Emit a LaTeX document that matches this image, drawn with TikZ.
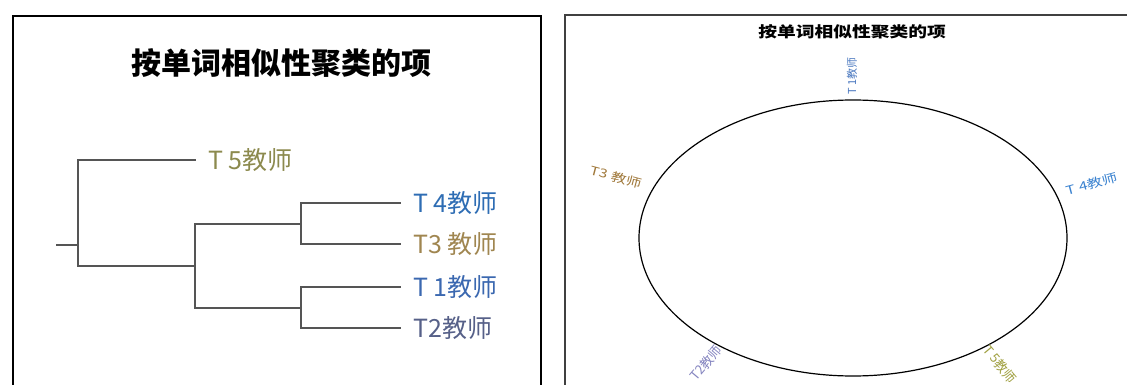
\documentclass[tikz,border=0pt]{standalone}
\usepackage{fontspec}
\setmainfont{Noto Sans CJK SC}
\usetikzlibrary{shapes.geometric}
\definecolor{dendc}{HTML}{555555}
\definecolor{cfive}{HTML}{8C8A4E}
\definecolor{cfour}{HTML}{2E6DB4}
\definecolor{cthree}{HTML}{A08650}
\definecolor{cone}{HTML}{3B68B0}
\definecolor{ctwo}{HTML}{566088}
\definecolor{rone}{HTML}{4A78C0}
\definecolor{rfour}{HTML}{3A82D0}
\definecolor{rthree}{HTML}{A0783A}
\definecolor{rtwo}{HTML}{8585C0}
\definecolor{rfive}{HTML}{A0A040}
\tikzset{
  dend/.style={draw=dendc, line width=2.8pt, line cap=rect},
  leaf/.style={anchor=west, inner xsep=13pt, inner ysep=0pt, font=\fontsize{25}{25}\selectfont},
  rlabel/.style={inner sep=0pt, font=\fontsize{12}{12}\selectfont},
}
\begin{document}
\begin{tikzpicture}[x=1pt,y=-1pt]
\useasboundingbox (0,0) rectangle (1127,385);
\fill[white] (0,0) rectangle (1127,385);
% frames
\draw[line width=1.8pt, black] (13,385) -- (13,16) -- (541,16) -- (541,385);
\draw[line width=1.2pt, black!75] (565,385) -- (565,15) -- (1127,15);
% left title
\node[font=\fontsize{30}{30}\selectfont\bfseries] (ltitle) at (281,63) {按单词相似性聚类的项};
% dendrogram
\coordinate (r) at (57,245);
\coordinate (n1) at (78,245);
\coordinate (n2) at (195,266);
\coordinate (n3) at (301,224);
\coordinate (n4) at (301,308);
\node[leaf, text=cfive] (t5) at (195,160) {T 5教师};
\node[leaf, text=cfour] (t4) at (400,203) {T 4教师};
\node[leaf, text=cthree] (t3) at (400,244) {T3 教师};
\node[leaf, text=cone] (t1) at (400,287) {T 1教师};
\node[leaf, text=ctwo] (t2) at (400,328) {T2教师};
\draw[dend] (r) -- (n1);
\draw[dend] (t5.west) -| (n1) |- (n2);
\draw[dend] (n3) -| (n2) |- (n4);
\draw[dend] (t4.west) -| (n3) |- (t3.west);
\draw[dend] (t1.west) -| (n4) |- (t2.west);
% right panel
\node[font=\fontsize{15}{15}\selectfont\bfseries, xscale=1.25] (rtitle) at (852,32) {按单词相似性聚类的项};
\node[draw=black, line width=1.2pt, ellipse, minimum width=428pt, minimum height=276pt, inner sep=0pt] (ell) at (853,238) {};
\node[rlabel, text=rone, rotate=90, font=\fontsize{11}{11}\selectfont] (r1) at (852,76) {T 1教师};
\node[rlabel, text=rfour, rotate=15, xscale=1.3] (r4) at (1092,184) {T 4教师};
\node[rlabel, text=rthree, rotate=-15, xscale=1.3] (r3) at (616,177) {T3 教师};
\node[rlabel, text=rtwo, rotate=50, font=\fontsize{13}{13}\selectfont] (r2) at (706,363) {T2教师};
\node[rlabel, text=rfive, rotate=-50, font=\fontsize{13}{13}\selectfont] (r5) at (1000,364) {T 5教师};
\end{tikzpicture}
\end{document}
